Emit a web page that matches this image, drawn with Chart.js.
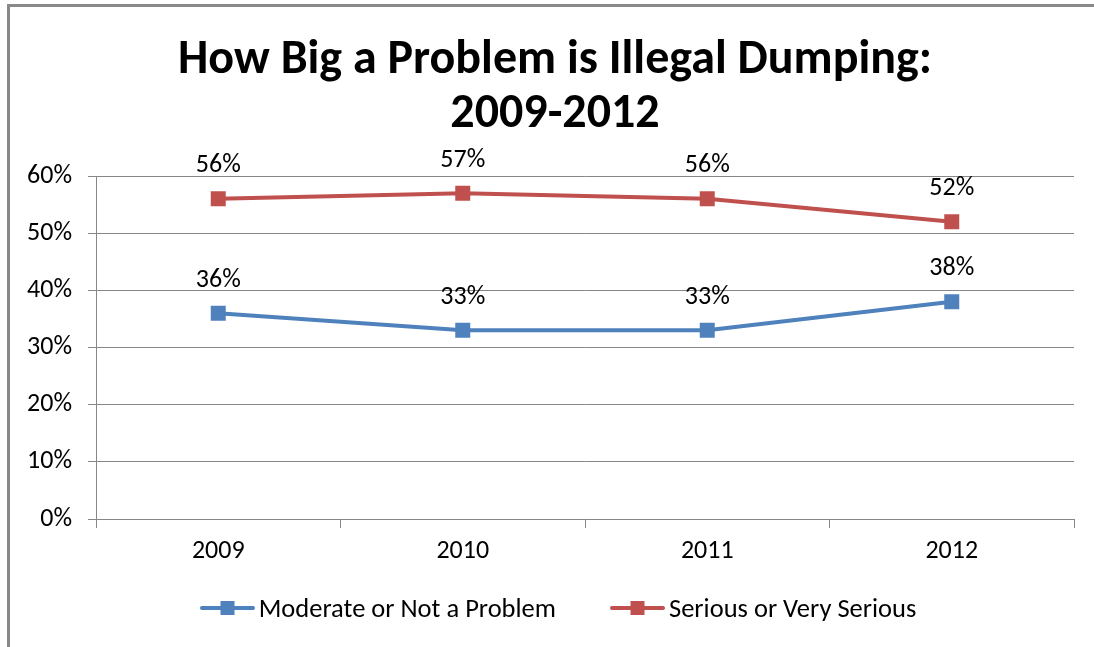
<!DOCTYPE html>
<html>
<head>
<meta charset="utf-8">
<script src="https://cdn.jsdelivr.net/npm/chart.js@4.4.1/dist/chart.umd.min.js"></script>
<style>
  body { margin: 0; background: #fff; }
  #wrap { position: relative; width: 1094px; height: 647px; overflow: hidden; }
  #frame { position: absolute; left: 7px; top: 4px; width: 1200px; height: 800px;
           border-left: 3px solid #898989; border-top: 3px solid #898989; }
  #myChart { position: absolute; left: 0; top: 0; }
  #legend { position: absolute; left: 0; top: 590px; width: 1116px; height: 36px;
            display: flex; justify-content: center; align-items: center; gap: 54px;
            font: 26.5px Carlito, Calibri, Lato, sans-serif; color: #000; line-height: 36px; }
  #legend .item { display: flex; align-items: center; white-space: nowrap; }
  #legend canvas { margin-right: 4px; }
</style>
</head>
<body>
<div id="wrap">
  <div id="frame"></div>
  <canvas id="myChart" width="1094" height="647"></canvas>
  <div id="legend"></div>
</div>
<script>
// data
const years = ['2009', '2010', '2011', '2012'];
const moderate = [36, 33, 33, 38];
const serious = [56, 57, 56, 52];
const seriesNames = ['Moderate or Not a Problem', 'Serious or Very Serious'];
const yTicks = [0, 10, 20, 30, 40, 50, 60];

const BLUE = '#4F81BD';
const RED = '#C0504D';
const GRID = '#878787';

Chart.defaults.font.family = 'Carlito, Calibri, Lato, sans-serif';
Chart.defaults.color = '#000';

// legend marker: line with a square in the middle (excel style)
function legendMark(color) {
  const c = document.createElement('canvas');
  c.width = 55; c.height = 16;
  const g = c.getContext('2d');
  g.strokeStyle = color;
  g.lineWidth = 4;
  g.lineCap = 'round';
  g.beginPath(); g.moveTo(2, 8); g.lineTo(53, 8); g.stroke();
  g.fillStyle = color;
  g.fillRect(20.5, 1, 14, 14);
  return c;
}

/*********************** html legend *******************************/
const htmlLegend = {
  id: 'htmlLegend',
  afterUpdate(chart) {
    const box = document.getElementById('legend');
    while (box.firstChild) box.firstChild.remove();
    chart.data.datasets.forEach((ds) => {
      const item = document.createElement('div');
      item.className = 'item';
      item.appendChild(legendMark(ds.borderColor));
      item.appendChild(document.createTextNode(ds.label));
      box.appendChild(item);
    });
  }
};

/*********************** value labels *******************************/
const valueLabels = {
  id: 'valueLabels',
  afterDatasetsDraw(chart) {
    const {ctx} = chart;
    ctx.save();
    ctx.font = '26px Carlito, Calibri, Lato, sans-serif';
    ctx.fillStyle = '#000';
    ctx.textAlign = 'center';
    ctx.textBaseline = 'middle';
    chart.data.datasets.forEach((ds, i) => {
      chart.getDatasetMeta(i).data.forEach((pt, j) => {
        ctx.fillText(ds.data[j] + '%', pt.x, pt.y - 33);
      });
    });
    ctx.restore();
  }
};

// nudge the title a little right, like the original
const titleShift = {
  id: 'titleShift',
  afterLayout(chart) {
    chart.titleBlock.left += 8;
    chart.titleBlock.right += 8;
  }
};

const ctx = document.getElementById('myChart').getContext('2d');
const myChart = new Chart(ctx, {
  type: 'line',
  data: {
    labels: years,
    datasets: [{
      label: seriesNames[0],
      data: moderate,
      borderColor: BLUE,
      backgroundColor: BLUE,
      borderWidth: 4,
      pointStyle: 'rect',
      pointRadius: 10.6,
      pointBorderWidth: 0,
      tension: 0
    }, {
      label: seriesNames[1],
      data: serious,
      borderColor: RED,
      backgroundColor: RED,
      borderWidth: 4,
      pointStyle: 'rect',
      pointRadius: 10.6,
      pointBorderWidth: 0,
      tension: 0
    }]
  },
  options: {
    responsive: false,
    animation: false,
    layout: {
      padding: { left: 20, right: 20, top: 0, bottom: 68 }
    },
    plugins: {
      title: {
        display: true,
        text: ['How Big a Problem is Illegal Dumping:', '2009-2012'],
        font: { size: 48, weight: 'bold', lineHeight: '54px' },
        color: '#000',
        padding: { top: 34, bottom: 34 }
      },
      legend: { display: false },
      tooltip: { enabled: false }
    },
    scales: {
      x: {
        offset: true,
        afterFit(axis) { axis.height = 60; },
        grid: {
          offset: true,
          drawOnChartArea: false,
          drawTicks: true,
          tickLength: 9,
          color: GRID
        },
        border: { color: GRID, width: 1 },
        ticks: { padding: 8, font: { size: 26 }, color: '#000' }
      },
      y: {
        min: yTicks[0],
        max: yTicks[yTicks.length - 1],
        afterFit(axis) { axis.width = 76; },
        afterBuildTicks(axis) { axis.ticks = yTicks.map(v => ({ value: v })); },
        grid: { color: GRID, tickLength: 8, lineWidth: 1 },
        border: { color: GRID, width: 1 },
        ticks: {
          padding: 16,
          font: { size: 26 },
          color: '#000',
          callback: (value) => value + '%'
        }
      }
    }
  },
  plugins: [valueLabels, htmlLegend, titleShift]
});
</script>
</body>
</html>
